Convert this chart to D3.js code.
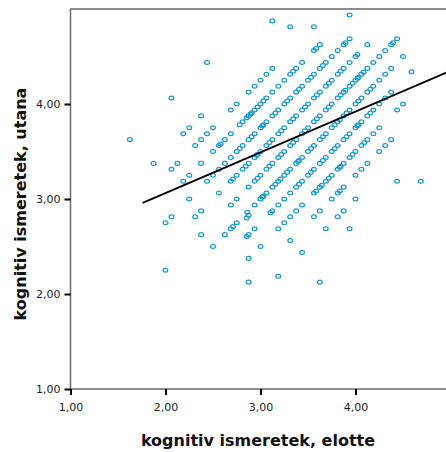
<!DOCTYPE html>
<html>
<head>
<meta charset="utf-8">
<script src="https://cdn.jsdelivr.net/npm/d3@7/dist/d3.min.js"></script>
<style>
  html, body { margin: 0; padding: 0; background: #fff; }
  svg { display: block; }
</style>
</head>
<body>
<svg id="chart" width="446" height="452"></svg>
<script>
// kognitiv ismeretek: score before (elotte) and after (utana), one pair per respondent
const elotte = [
  1.625, 2.0625, 2.4375,
  3.125,
  1.875, 2.1875, 2.25, 2.375, 3.3125,
  2.0625, 2.125, 2.3125, 2.375, 2.4375, 2.5, 2.6875, 2.75, 2.875, 2.9375, 3, 3.0625, 3.125, 3.5625,
  2.1875, 2.25, 2.375, 2.5, 2.5625, 2.58, 2.625, 2.6875, 2.8125, 2.855, 2.875, 2.895, 2.9375, 3, 3.0625, 3.125, 3.1875, 3.25, 3.3125, 3.375, 3.4375, 3.5625, 3.585, 3.625, 3.9375,
  2, 2.0625, 2.25, 2.4375, 2.5, 2.5625, 2.625, 2.6875, 2.75, 2.8125, 2.875, 2.9375, 3, 3.02, 3.0625, 3.125, 3.1875, 3.25, 3.3125, 3.375, 3.4375, 3.5, 3.5625, 3.625, 3.6875, 3.75, 3.8125, 3.875, 3.895, 3.9375,
  2.3125, 2.375, 2.5625, 2.6875, 2.71, 2.75, 2.8125, 2.875, 2.9375, 2.96, 3, 3.0625, 3.125, 3.1875, 3.25, 3.3125, 3.375, 3.4375, 3.5, 3.5625, 3.625, 3.6875, 3.75, 3.8125, 3.875, 3.9375, 4, 4.02, 4.125,
  2, 2.375, 2.6875, 2.75, 2.875, 2.9375, 3, 3.0625, 3.125, 3.1875, 3.25, 3.3125, 3.375, 3.4375, 3.5, 3.5625, 3.625, 3.6875, 3.75, 3.8125, 3.875, 3.895, 3.9375, 4, 4.02, 4.0625, 4.085, 4.125, 4.1875, 4.25, 4.3125, 4.375, 4.395, 4.4375,
  2.5, 2.625, 2.6875, 2.71, 2.75, 2.855, 2.875, 2.86, 2.9375, 3, 3.02, 3.0625, 3.125, 3.1875, 3.21, 3.25, 3.3125, 3.375, 3.395, 3.4375, 3.5, 3.5625, 3.625, 3.6875, 3.75, 3.8125, 3.835, 3.875, 3.9375, 4, 4.0625, 4.125, 4.1875, 4.25, 4.3125, 4.375, 4.5,
  2.855, 2.875, 2.9375, 3.105, 3.125, 3.1875, 3.25, 3.3125, 3.375, 3.4375, 3.5, 3.5625, 3.625, 3.6875, 3.75, 3.8125, 3.875, 3.9375, 4, 4.02, 4.0625, 4.125, 4.1875, 4.25, 4.3125, 4.375, 4.59,
  2.875, 3, 3.1875, 3.25, 3.3125, 3.375, 3.4375, 3.5625, 3.585, 3.625, 3.645, 3.6875, 3.75, 3.8125, 3.835, 3.875, 3.9375, 4, 4.0625, 4.125, 4.1875, 4.25, 4.4375, 4.5,
  2.875, 3.3125, 3.5625, 3.625, 3.75, 3.8125, 3.835, 3.875, 4, 4.0625, 4.125, 4.25, 4.3125, 4.375,
  3.1875, 3.4375, 3.6875, 3.8125, 3.875, 4,
  3.9375, 4.4375,
  3.625, 4.6875,
  2.781, 2.906, 2.969, 3.031, 3.344,
  2.781, 2.906, 3.031, 3.156, 3.281, 3.406, 3.531, 3.656,
  2.844, 2.969, 3.094, 3.219, 3.344, 3.469, 3.594, 3.719, 3.844,
  2.969, 3.094, 3.219, 3.344, 3.469, 3.594, 3.719, 3.844, 3.969, 4.031,
  3.031, 3.156, 3.281, 3.406, 3.531, 3.656, 3.781, 3.906, 4.031, 4.156,
  3.406, 3.531, 3.656, 3.781, 3.906, 4.031, 4.156,
  3.719, 3.844, 3.969, 4.094
];
const utana = [
  3.625, 4.0625, 4.4375,
  4.875,
  3.375, 3.6875, 3.75, 3.875, 4.8125,
  3.3125, 3.375, 3.5625, 3.625, 3.6875, 3.75, 3.9375, 4, 4.125, 4.1875, 4.25, 4.3125, 4.375, 4.8125,
  3.1875, 3.25, 3.375, 3.5, 3.5625, 3.58, 3.625, 3.6875, 3.8125, 3.855, 3.875, 3.895, 3.9375, 4, 4.0625, 4.125, 4.1875, 4.25, 4.3125, 4.375, 4.4375, 4.5625, 4.585, 4.625, 4.9375,
  2.75, 2.8125, 3, 3.1875, 3.25, 3.3125, 3.375, 3.4375, 3.5, 3.5625, 3.625, 3.6875, 3.75, 3.77, 3.8125, 3.875, 3.9375, 4, 4.0625, 4.125, 4.1875, 4.25, 4.3125, 4.375, 4.4375, 4.5, 4.5625, 4.625, 4.645, 4.6875,
  2.8125, 2.875, 3.0625, 3.1875, 3.21, 3.25, 3.3125, 3.375, 3.4375, 3.46, 3.5, 3.5625, 3.625, 3.6875, 3.75, 3.8125, 3.875, 3.9375, 4, 4.0625, 4.125, 4.1875, 4.25, 4.3125, 4.375, 4.4375, 4.5, 4.52, 4.625,
  2.25, 2.625, 2.9375, 3, 3.125, 3.1875, 3.25, 3.3125, 3.375, 3.4375, 3.5, 3.5625, 3.625, 3.6875, 3.75, 3.8125, 3.875, 3.9375, 4, 4.0625, 4.125, 4.145, 4.1875, 4.25, 4.27, 4.3125, 4.335, 4.375, 4.4375, 4.5, 4.5625, 4.625, 4.645, 4.6875,
  2.5, 2.625, 2.6875, 2.71, 2.75, 2.8, 2.83, 2.86, 2.9375, 3, 3.02, 3.0625, 3.125, 3.1875, 3.21, 3.25, 3.3125, 3.375, 3.395, 3.4375, 3.5, 3.5625, 3.625, 3.6875, 3.75, 3.8125, 3.835, 3.875, 3.9375, 4, 4.0625, 4.125, 4.1875, 4.25, 4.3125, 4.375, 4.5,
  2.605, 2.625, 2.6875, 2.855, 2.875, 2.9375, 3, 3.0625, 3.125, 3.1875, 3.25, 3.3125, 3.375, 3.4375, 3.5, 3.5625, 3.625, 3.6875, 3.75, 3.77, 3.8125, 3.875, 3.9375, 4, 4.0625, 4.125, 4.34,
  2.375, 2.5, 2.6875, 2.75, 2.8125, 2.875, 2.9375, 3.0625, 3.085, 3.125, 3.145, 3.1875, 3.25, 3.3125, 3.335, 3.375, 3.4375, 3.5, 3.5625, 3.625, 3.6875, 3.75, 3.9375, 4,
  2.125, 2.5625, 2.8125, 2.875, 3, 3.0625, 3.085, 3.125, 3.25, 3.3125, 3.375, 3.5, 3.5625, 3.625,
  2.1875, 2.4375, 2.6875, 2.8125, 2.875, 3,
  2.6875, 3.1875,
  2.125, 3.1875,
  3.781, 3.906, 3.969, 4.031, 4.344,
  3.531, 3.656, 3.781, 3.906, 4.031, 4.156, 4.281, 4.406,
  3.344, 3.469, 3.594, 3.719, 3.844, 3.969, 4.094, 4.219, 4.344,
  3.219, 3.344, 3.469, 3.594, 3.719, 3.844, 3.969, 4.094, 4.219, 4.281,
  3.031, 3.156, 3.281, 3.406, 3.531, 3.656, 3.781, 3.906, 4.031, 4.156,
  3.156, 3.281, 3.406, 3.531, 3.656, 3.781, 3.906,
  3.219, 3.344, 3.469, 3.594
];

// linear fit line (total), drawn between these two points
const fitX = [1.76, 5.0];
const fitY = [2.96, 4.35];

const tickValues = [1, 2, 3, 4];
const axisDomain = [1, 5];

const plot = { left: 70.5, top: 9, right: 450.5, bottom: 389 };

const svg = d3.select("#chart");

const x = d3.scaleLinear().domain(axisDomain).range([plot.left, plot.right]);
const y = d3.scaleLinear().domain(axisDomain).range([plot.bottom, plot.top]);

const huFormat = d3.formatLocale({ decimal: ",", thousands: " ", grouping: [3], currency: ["", ""] }).format(".2f");

// plot frame
svg.append("rect")
  .attr("x", plot.left).attr("y", plot.top)
  .attr("width", plot.right - plot.left).attr("height", plot.bottom - plot.top)
  .attr("fill", "none").attr("stroke", "#727272").attr("stroke-width", 1.6);

// points
const points = elotte.map((v, i) => ({ x: v, y: utana[i] }));
svg.append("g")
  .selectAll("ellipse")
  .data(points)
  .join("ellipse")
  .attr("cx", d => x(d.x))
  .attr("cy", d => y(d.y))
  .attr("rx", 2.4)
  .attr("ry", 1.9)
  .attr("fill", "none")
  .attr("stroke", "#1798cf")
  .attr("stroke-width", 1.25);

// fit line
svg.append("path")
  .datum(fitX.map((v, i) => [v, fitY[i]]))
  .attr("d", d3.line().x(d => x(d[0])).y(d => y(d[1])))
  .attr("fill", "none")
  .attr("stroke", "#000")
  .attr("stroke-width", 1.9);

// axes
const xAxis = d3.axisBottom(x).tickValues(tickValues).tickSize(6).tickPadding(8).tickFormat(huFormat);
const yAxis = d3.axisLeft(y).tickValues(tickValues).tickSize(6).tickPadding(4).tickFormat(huFormat);

const gx = svg.append("g").attr("transform", `translate(0,${plot.bottom})`).call(xAxis);
const gy = svg.append("g").attr("transform", `translate(${plot.left},0)`).call(yAxis);

[gx, gy].forEach(g => {
  g.select(".domain").remove();
  g.selectAll(".tick line").attr("stroke", "#000").attr("stroke-width", 2);
  g.selectAll(".tick text")
    .attr("fill", "#222")
    .style("font-family", "'DejaVu Sans', sans-serif")
    .style("font-size", "11px");
});

// axis titles
svg.append("text")
  .attr("x", 258).attr("y", 446)
  .attr("text-anchor", "middle")
  .style("font-family", "'DejaVu Sans', sans-serif")
  .style("font-weight", "bold")
  .style("font-size", "16px")
  .attr("fill", "#111")
  .text("kognitiv ismeretek, elotte");

svg.append("text")
  .attr("transform", "translate(26,204) rotate(-90)")
  .attr("text-anchor", "middle")
  .style("font-family", "'DejaVu Sans', sans-serif")
  .style("font-weight", "bold")
  .style("font-size", "16px")
  .attr("fill", "#111")
  .text("kognitiv ismeretek, utana");
</script>
</body>
</html>
